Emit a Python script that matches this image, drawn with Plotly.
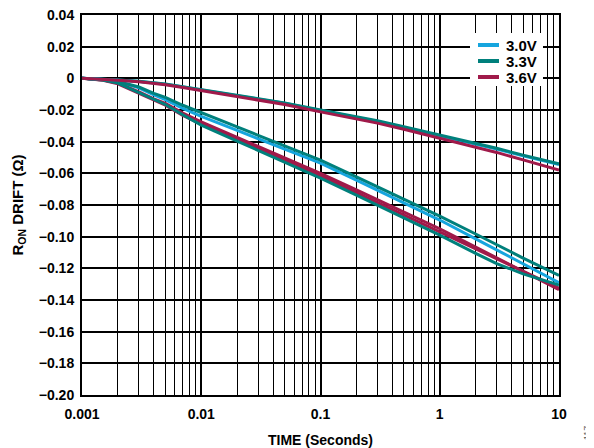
import plotly.graph_objects as go

# ---- data ----
TIME = [0.001, 0.0015, 0.002, 0.003, 0.004, 0.005, 0.007, 0.01, 0.02, 0.03, 0.05,
        0.1, 0.2, 0.3, 0.5, 1, 2, 3, 5, 10]

# upper group (one device per supply)
UP_30 = [0, -0.0005, -0.001, -0.002, -0.003, -0.0038, -0.0055, -0.0073, -0.0108, -0.0130, -0.0158,
         -0.0203, -0.0245, -0.0272, -0.0310, -0.0362, -0.0415, -0.0447, -0.0490, -0.0545]
UP_33 = [0, -0.0005, -0.001, -0.0019, -0.0028, -0.0036, -0.0053, -0.0071, -0.0106, -0.0127, -0.0155,
         -0.0200, -0.0242, -0.0268, -0.0306, -0.0358, -0.0410, -0.0442, -0.0485, -0.0540]
UP_36 = [0, -0.0006, -0.0012, -0.0022, -0.0032, -0.0041, -0.0058, -0.0077, -0.0113, -0.0136, -0.0165,
         -0.0212, -0.0255, -0.0283, -0.0322, -0.0378, -0.0433, -0.0468, -0.0515, -0.0580]

# lower group
LO_30 = [0, -0.0008, -0.002, -0.006, -0.0105, -0.0135, -0.019, -0.024, -0.0329, -0.0381, -0.0446,
         -0.0535, -0.0643, -0.0707, -0.0787, -0.0895, -0.1014, -0.1083, -0.1171, -0.1290]
LO_33A = [0, -0.0008, -0.002, -0.0055, -0.0095, -0.012, -0.017, -0.0215, -0.0306, -0.0360, -0.0425,
          -0.0516, -0.0623, -0.0685, -0.0763, -0.0870, -0.0983, -0.1052, -0.1135, -0.1245]
LO_33B = [0, -0.001, -0.003, -0.009, -0.0135, -0.0165, -0.023, -0.0295, -0.0396, -0.0455, -0.0529,
          -0.063, -0.0738, -0.0802, -0.0882, -0.099, -0.1105, -0.1170, -0.1235, -0.1305]
LO_36A = [0, -0.001, -0.003, -0.0085, -0.013, -0.0158, -0.022, -0.0275, -0.0373, -0.0430, -0.0502,
          -0.060, -0.0705, -0.0767, -0.0845, -0.095, -0.1066, -0.1134, -0.1219, -0.1335]
LO_36B = [0, -0.0012, -0.0035, -0.0095, -0.014, -0.017, -0.0235, -0.029, -0.0388, -0.0445, -0.0517,
          -0.0615, -0.0722, -0.0784, -0.0863, -0.097, -0.1077, -0.1139, -0.1218, -0.1325]

X_TICKS = [0.001, 0.01, 0.1, 1, 10]
X_TICKTEXT = ["0.001", "0.01", "0.1", "1", "10"]
X_MINOR = [m * d for d in [0.001, 0.01, 0.1, 1] for m in range(2, 10)]
Y_TICKS = [0.04, 0.02, 0, -0.02, -0.04, -0.06, -0.08, -0.10, -0.12, -0.14, -0.16, -0.18, -0.20]
Y_TICKTEXT = ["0.04", "0.02", "0", "\u22120.02", "\u22120.04", "\u22120.06", "\u22120.08",
              "\u22120.10", "\u22120.12", "\u22120.14", "\u22120.16", "\u22120.18", "\u22120.20"]

LEGEND_NAMES = ["3.0V", "3.3V", "3.6V"]
C30 = "#16A5DE"
C33 = "#00807C"
C36 = "#A01A4A"
LEGEND_COLORS = [C30, C33, C36]

series = [
    (LO_30, C30, "3.0V"),
    (LO_36A, C36, "3.6V"),
    (LO_36B, C36, "3.6V"),
    (LO_33B, C33, "3.3V"),
    (LO_33A, C33, "3.3V"),
    (UP_30, C30, "3.0V"),
    (UP_33, C33, "3.3V"),
    (UP_36, C36, "3.6V"),
]

FONT = "Liberation Sans, Arial, sans-serif"

# layout geometry (page body has an 8px margin, so the figure is 8px smaller each way)
W, H = 586, 440
ML, MR, MT, MB = 74, 35, 7, 53
PW, PH = W - ML - MR, H - MT - MB


def fx(px):  # page pixel -> paper x
    return (px - 8 - ML) / PW


def fy(py):  # page pixel -> paper y
    return 1 - (py - 8 - MT) / PH


fig = go.Figure()
for ys, col, name in series:
    fig.add_trace(go.Scatter(
        x=TIME, y=ys, mode="lines", name=name, showlegend=False,
        line=dict(color=col, width=3),
    ))

shapes = [dict(type="rect", xref="paper", yref="paper",
               x0=fx(470), x1=fx(543), y0=fy(86), y1=fy(33),
               fillcolor="white", line=dict(width=0), layer="above")]
annotations = []
rows_py = [45, 61, 77]
for name, col, py in zip(LEGEND_NAMES, LEGEND_COLORS, rows_py):
    shapes.append(dict(type="line", xref="paper", yref="paper",
                       x0=fx(478), x1=fx(499), y0=fy(py), y1=fy(py),
                       line=dict(color=col, width=4), layer="above"))
    annotations.append(dict(text=name, xref="paper", yref="paper",
                            x=fx(504), y=fy(py), xanchor="left", yanchor="middle",
                            showarrow=False,
                            font=dict(family=FONT, size=15, color="black", weight="bold")))

annotations.append(dict(
    text="117", xref="paper", yref="paper", x=fx(587), y=fy(433),
    xanchor="center", yanchor="middle", showarrow=False, textangle=-90,
    font=dict(family=FONT, size=9, color="#555555", weight="normal"),
))

fig.update_layout(
    width=W, height=H,
    margin=dict(l=ML, r=MR, t=MT, b=MB, autoexpand=False),
    paper_bgcolor="white", plot_bgcolor="white",
    font=dict(family=FONT, size=13, color="black", weight="bold"),
    showlegend=False,
    xaxis=dict(
        type="log", range=[-3, 1], automargin=False,
        tickvals=X_TICKS, ticktext=X_TICKTEXT, ticks="", ticklabelstandoff=5,
        ticklabeloverflow="allow",
        showgrid=True, gridcolor="black", gridwidth=2,
        minor=dict(tickvals=X_MINOR, showgrid=True, gridcolor="black", gridwidth=1, ticks=""),
        showline=True, linecolor="black", linewidth=2, mirror=True,
        tickfont=dict(family=FONT, size=14, weight="bold"),
        title=dict(text="TIME (Seconds)", font=dict(family=FONT, size=14, weight="bold"), standoff=15),
        zeroline=False,
    ),
    yaxis=dict(
        range=[-0.20, 0.04], automargin=False,
        tickvals=Y_TICKS, ticktext=Y_TICKTEXT, ticks="", ticklabelstandoff=3,
        ticklabeloverflow="allow",
        showgrid=True, gridcolor="black", gridwidth=1.5,
        showline=True, linecolor="black", linewidth=2, mirror=True,
        zeroline=False,
        tickfont=dict(family=FONT, size=14, weight="bold"),
        title=dict(text="R<sub>ON</sub> DRIFT (\u03a9)", font=dict(family=FONT, size=15, weight="bold"), standoff=12),
    ),
    shapes=shapes,
    annotations=annotations,
)

fig.write_html("out.html")
